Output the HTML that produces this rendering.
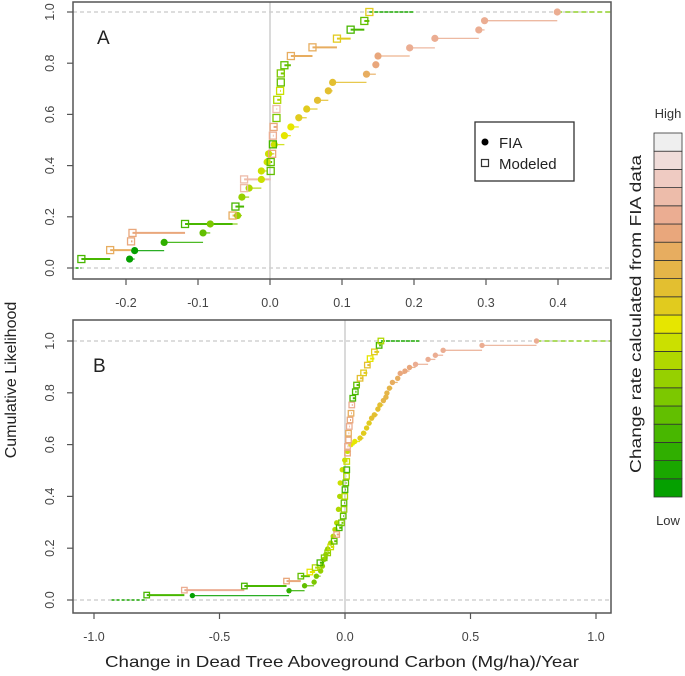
<!DOCTYPE html>
<html><head><meta charset="utf-8"><style>
html,body{margin:0;padding:0;background:#fff}
svg{display:block;font-family:"Liberation Sans",sans-serif}
</style></head><body>
<svg id="chart" width="685" height="676" viewBox="0 0 685 676" xmlns="http://www.w3.org/2000/svg">
<text transform="translate(16,380) rotate(-90)" text-anchor="middle" font-size="16" fill="#222">Cumulative Likelihood</text>
<text x="342" y="667" text-anchor="middle" font-size="16" fill="#222" textLength="474" lengthAdjust="spacingAndGlyphs">Change in Dead Tree Aboveground Carbon (Mg/ha)/Year</text>
<g id="cbar"></g>
<text x="668" y="118" text-anchor="middle" font-size="13" fill="#333">High</text>
<text x="668" y="525" text-anchor="middle" font-size="13" fill="#333">Low</text>
<text transform="translate(641,314) rotate(-90)" text-anchor="middle" font-size="16" fill="#222" textLength="318" lengthAdjust="spacingAndGlyphs">Change rate calculated from FIA data</text>
<g id="panelA"></g>
<g id="panelB"></g>
</svg>
<script>
const rampColors = ["#05a000","#1aa700","#30af00","#48b700","#62bf00","#7cc800","#96d000","#b0d800","#cbe000","#e6e600","#e1cb1e","#e3bf30","#e5b548","#e7ad60","#e9a77c","#ebad92","#edbcaa","#efcbc2","#f0dcd9","#efefef"];

const aFiaX = [-0.195,-0.188,-0.147,-0.093,-0.083,-0.045,-0.039,-0.029,-0.012,-0.012,-0.004,-0.002,0.006,0.020,0.029,0.040,0.051,0.066,0.081,0.087,0.134,0.147,0.150,0.194,0.229,0.290,0.298,0.399];
const aFiaY = [0.035,0.068,0.100,0.137,0.172,0.205,0.277,0.312,0.346,0.379,0.414,0.446,0.482,0.517,0.551,0.587,0.621,0.655,0.692,0.725,0.757,0.794,0.828,0.860,0.897,0.930,0.966,1.0];
const aModX = [-0.262,-0.222,-0.193,-0.191,-0.118,-0.052,-0.048,-0.036,-0.036,0.001,0.001,0.003,0.004,0.004,0.005,0.009,0.009,0.010,0.014,0.015,0.015,0.020,0.029,0.059,0.093,0.112,0.131,0.138];
const aModY = [0.035,0.070,0.104,0.137,0.172,0.205,0.240,0.312,0.346,0.379,0.414,0.446,0.483,0.517,0.551,0.586,0.621,0.657,0.692,0.725,0.760,0.792,0.828,0.862,0.896,0.931,0.965,1.0];
const aModC = [3,13,14,14,3,13,3,16,16,4,4,14,3,15,14,5,16,7,8,4,5,4,13,13,10,3,4,10];
const aTicks = [-0.2,-0.1,0.0,0.1,0.2,0.3,0.4];
const aTickLabels = ["-0.2","-0.1","0.0","0.1","0.2","0.3","0.4"];

const bFiaX = [-0.608,-0.223,-0.161,-0.123,-0.114,-0.097,-0.090,-0.083,-0.076,-0.069,-0.057,-0.047,-0.040,-0.033,-0.026,-0.021,-0.019,-0.011,-0.001,0.010,0.024,0.039,0.060,0.074,0.086,0.096,0.106,0.117,0.131,0.139,0.153,0.163,0.167,0.177,0.189,0.210,0.220,0.239,0.257,0.281,0.331,0.360,0.391,0.546,0.763];
const bFiaY = [0.017,0.036,0.055,0.069,0.092,0.112,0.131,0.157,0.176,0.197,0.220,0.246,0.272,0.298,0.350,0.400,0.452,0.503,0.540,0.574,0.600,0.612,0.625,0.644,0.664,0.683,0.702,0.715,0.737,0.753,0.770,0.783,0.799,0.818,0.840,0.856,0.875,0.884,0.898,0.910,0.929,0.945,0.964,0.983,1.0];
const bModX = [-0.790,-0.640,-0.401,-0.233,-0.176,-0.140,-0.119,-0.100,-0.083,-0.069,-0.057,-0.043,-0.033,-0.023,-0.014,-0.007,-0.004,-0.004,-0.001,0.000,0.003,0.006,0.007,0.007,0.010,0.010,0.014,0.014,0.017,0.020,0.024,0.027,0.031,0.041,0.046,0.060,0.074,0.089,0.100,0.117,0.136,0.143];
const bModY = [0.019,0.038,0.054,0.073,0.092,0.108,0.125,0.144,0.163,0.182,0.205,0.227,0.253,0.279,0.298,0.324,0.350,0.375,0.400,0.426,0.452,0.478,0.503,0.535,0.567,0.593,0.618,0.644,0.670,0.695,0.721,0.753,0.779,0.804,0.830,0.856,0.877,0.907,0.932,0.958,0.983,1.0];
const bModC = [3,15,3,14,4,9,7,3,5,6,8,4,14,3,5,4,6,4,7,3,4,7,3,8,14,15,14,13,15,14,13,15,3,3,4,11,10,11,9,10,3,7];
const bTicks = [-1.0,-0.5,0.0,0.5,1.0];
const bTickLabels = ["-1.0","-0.5","0.0","0.5","1.0"];
const yTicks = [0.0,0.2,0.4,0.6,0.8,1.0];
const yTickLabels = ["0.0","0.2","0.4","0.6","0.8","1.0"];

const NS = "http://www.w3.org/2000/svg";
function mk(parent, tag, attrs){const e=document.createElementNS(NS,tag);for(const k in attrs)e.setAttribute(k,attrs[k]);parent.appendChild(e);return e;}

const cb = document.getElementById('cbar');
for(let i=0;i<rampColors.length;i++){
  const r = mk(cb,'rect',{x:654,y:497-(i+1)*18.2,width:28,height:18.2,fill:rampColors[i],stroke:'#333','stroke-width':0.8});
  
  
}

function panel(id, cfg){
  const g = document.getElementById(id);
  const L=73,R=611,T=cfg.top,B=cfg.bottom;
  const sx = v => cfg.x0 + v*cfg.xs;
  const sy = v => cfg.y0 - v*(cfg.y0-cfg.y1);
  const fiaColor = v => rampColors[Math.max(0,Math.min(15,Math.round(8+v*cfg.cscale)))];
  [0,1].forEach(v=>{const l=mk(g,'line',{x1:L,x2:R,y1:sy(v),y2:sy(v),stroke:'#bbb','stroke-width':1,'stroke-dasharray':'4,3'});
    });
  const z=mk(g,'line',{x1:sx(0),x2:sx(0),y1:T,y2:B,stroke:'#d0d0d0','stroke-width':1.6});
  
  const mx=cfg.modX, my=cfg.modY, fx=cfg.fiaX, fy=cfg.fiaY;
  let l0=mk(g,'line',{x1:sx(cfg.leftEnd),x2:sx(mx[0]),y1:sy(0),y2:sy(0),stroke:'#1aa700','stroke-width':1.4,'stroke-dasharray':'3,2'});
  
  let l1=mk(g,'line',{x1:sx(mx[mx.length-1]),x2:sx(cfg.modEnd),y1:sy(1),y2:sy(1),stroke:'#1aa700','stroke-width':1.6,'stroke-dasharray':'4,1'});
  
  let l2=mk(g,'line',{x1:sx(fx[fx.length-1]),x2:R,y1:sy(1),y2:sy(1),stroke:'#7cc800','stroke-width':1.2,'stroke-dasharray':'5,3'});
  
  for(let i=0;i<fx.length-1;i++){
    const s=mk(g,'line',{x1:sx(fx[i]),x2:sx(fx[i+1]),y1:sy(fy[i]),y2:sy(fy[i]),stroke:fiaColor(fx[i]),'stroke-width':1.3,opacity:0.85});
    
  }
  for(let i=0;i<mx.length-1;i++){
    const s=mk(g,'line',{x1:sx(mx[i]),x2:sx(mx[i+1]),y1:sy(my[i]),y2:sy(my[i]),stroke:rampColors[cfg.modC[i]],'stroke-width':2});
    
  }
  for(let i=0;i<fx.length;i++){
    const c=mk(g,'circle',{cx:sx(fx[i]),cy:sy(fy[i]),r:cfg.pr,fill:fiaColor(fx[i])});
    
  }
  for(let i=0;i<mx.length;i++){
    const s=cfg.sq;
    const r=mk(g,'rect',{x:sx(mx[i])-s/2,y:sy(my[i])-s/2,width:s,height:s,fill:'none',stroke:rampColors[cfg.modC[i]],'stroke-width':1.3});
    
  }
  const f=mk(g,'rect',{x:L,y:T,width:R-L,height:B-T,fill:'none',stroke:'#555','stroke-width':1.5});
  
  yTicks.forEach((v,i)=>{
    const t=mk(g,'line',{x1:L-6,x2:L,y1:sy(v),y2:sy(v),stroke:'#555','stroke-width':1.2});
    
    const tx=mk(g,'text',{transform:`translate(54,${sy(v)}) rotate(-90)`,'text-anchor':'middle','font-size':12.5,fill:'#444'});
    tx.textContent=yTickLabels[i];
    
  });
  cfg.ticks.forEach((v,i)=>{
    const t=mk(g,'line',{x1:sx(v),x2:sx(v),y1:B,y2:B+6,stroke:'#555','stroke-width':1.2});
    
    const tx=mk(g,'text',{x:sx(v),y:B+28,'text-anchor':'middle','font-size':12.5,fill:'#444'});
    tx.textContent=cfg.tickLabels[i];
    
  });
  const pl=mk(g,'text',{x:cfg.lx,y:cfg.ly,'font-size':19,fill:'#222'});
  pl.textContent=cfg.label;
  
}

panel('panelA',{top:2,bottom:279,x0:270,xs:720,y0:268,y1:12,fiaX:aFiaX,fiaY:aFiaY,modX:aModX,modY:aModY,modC:aModC,
  ticks:aTicks,tickLabels:aTickLabels,cscale:40,pr:3.6,sq:7,leftEnd:-0.27,modEnd:0.20,lx:97,ly:44,label:'A'});
panel('panelB',{top:320,bottom:613,x0:345,xs:251,y0:600,y1:341,fiaX:bFiaX,fiaY:bFiaY,modX:bModX,modY:bModY,modC:bModC,
  ticks:bTicks,tickLabels:bTickLabels,cscale:25,pr:2.7,sq:5.5,leftEnd:-0.93,modEnd:0.296,lx:93,ly:372,label:'B'});

const ga=document.getElementById('panelA');
const lg=mk(ga,'g',{});

mk(lg,'rect',{x:475,y:122,width:99,height:59,fill:'#fff',stroke:'#333','stroke-width':1.3});
const lc=mk(lg,'circle',{cx:485,cy:142,r:3.5,fill:'#000'});

const ls=mk(lg,'rect',{x:481.5,y:159.5,width:7,height:7,fill:'none',stroke:'#333','stroke-width':1.2});

const t1=mk(lg,'text',{x:499,y:148,'font-size':15,fill:'#222'});t1.textContent='FIA';

const t2=mk(lg,'text',{x:499,y:169,'font-size':15,fill:'#222'});t2.textContent='Modeled';

</script>
</body></html>
